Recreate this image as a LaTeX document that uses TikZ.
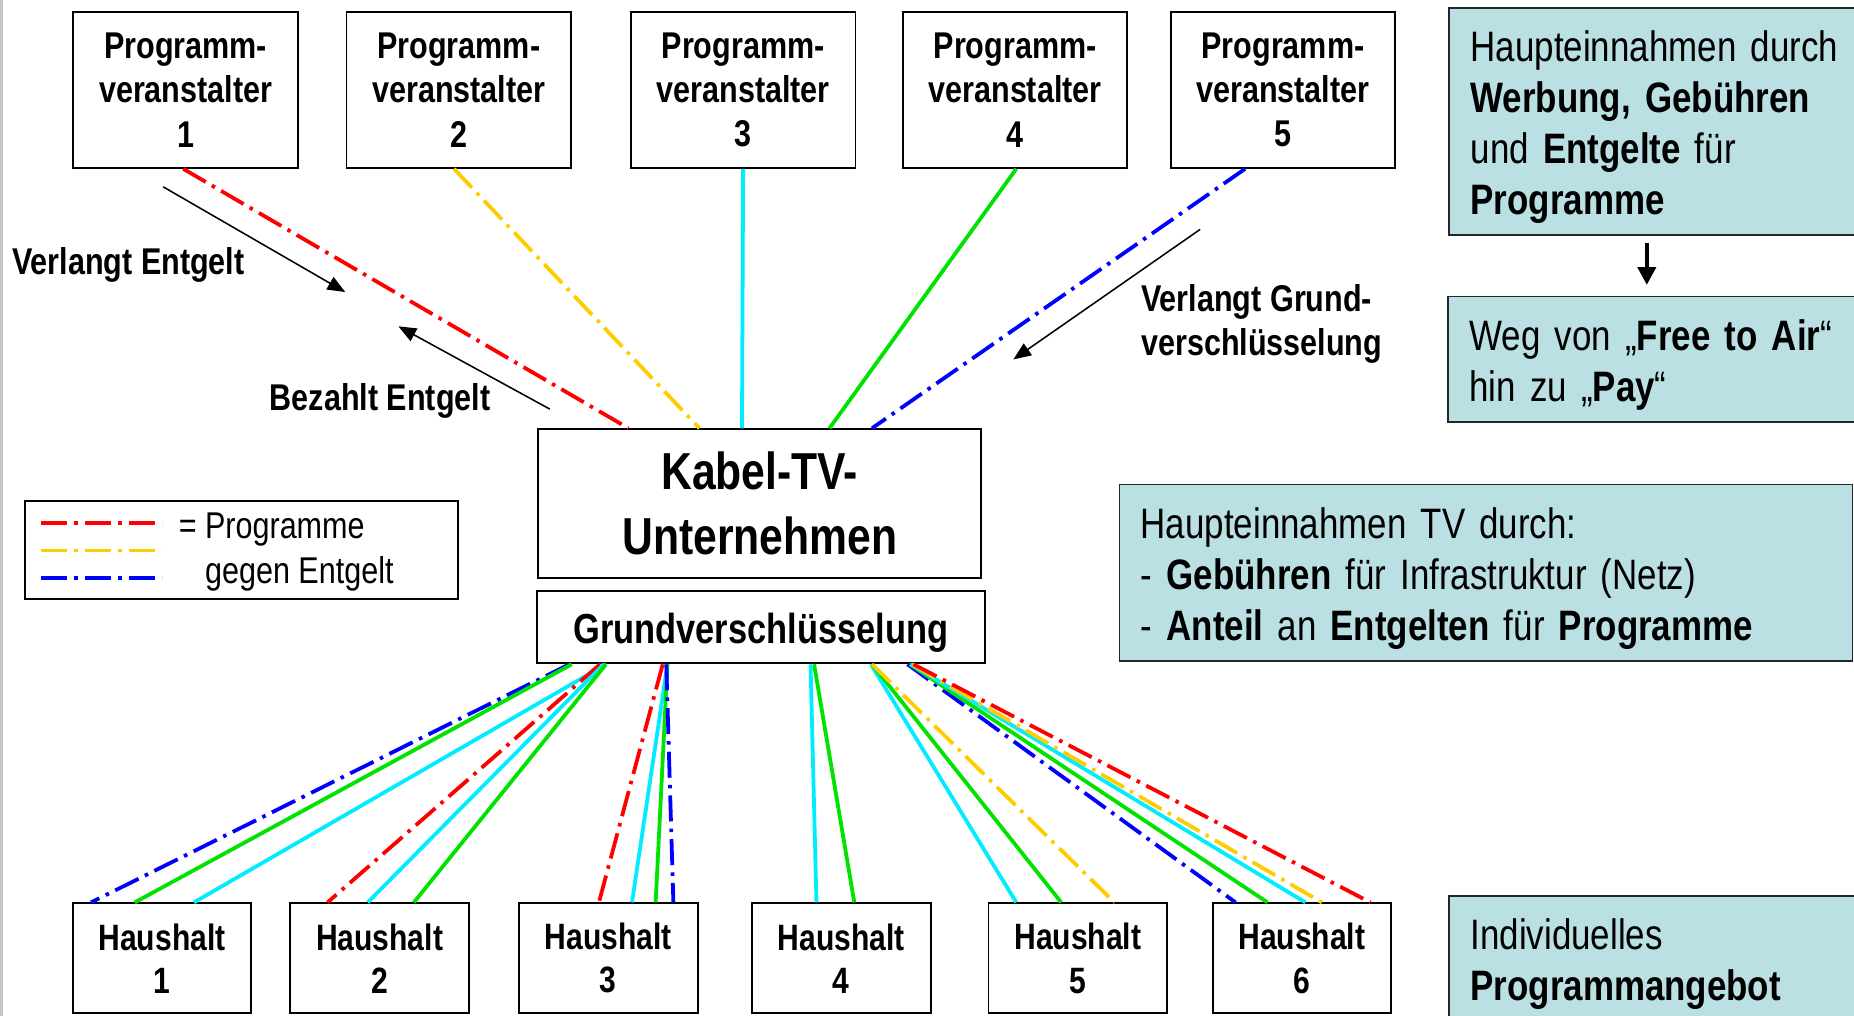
\documentclass[tikz,border=0pt]{standalone}
\usepackage{fontspec}
\setmainfont[FakeStretch=0.82]{Liberation Sans}
\usetikzlibrary{arrows.meta}

\definecolor{infofill}{RGB}{187,224,227}
\definecolor{payred}{RGB}{255,0,0}
\definecolor{payyellow}{RGB}{255,204,0}
\definecolor{payblue}{RGB}{0,0,255}
\definecolor{freecyan}{RGB}{0,236,255}
\definecolor{freegreen}{RGB}{0,226,0}

\tikzset{
  box/.style={draw, line width=1.6pt, align=center, inner sep=0pt},
  pbox/.style={box, minimum width=190pt, minimum height=132pt,
    font=\fontsize{31.5}{37.5}\selectfont\bfseries,
    execute at begin node=\rule{0pt}{0.85em}},
  hbox/.style={box, minimum width=151pt, minimum height=93pt,
    font=\fontsize{31}{36.5}\selectfont\bfseries},
  infobox/.style={draw=black!85, line width=1.5pt, fill=infofill, align=left,
    inner xsep=18pt, inner ysep=0pt, anchor=north west,
    font=\fontsize{36}{43}\selectfont,
    execute at begin node=\rule{0pt}{1em}},
  lbl/.style={font=\fontsize{31.5}{38}\selectfont\bfseries, align=left,
    anchor=west, inner sep=0pt},
  lblarrow/.style={line width=1.3pt, -{Triangle[length=15pt,width=12pt]}},
  link/.style={line width=3.2pt},
  pay/.style={link, dash pattern=on 22pt off 6pt on 3pt off 6pt},
  redpay/.style={pay, payred},
  yellowpay/.style={pay, payyellow},
  bluepay/.style={pay, payblue},
  cyanfree/.style={link, freecyan},
  greenfree/.style={link, freegreen}
}

\begin{document}
\begin{tikzpicture}[x=1pt, y=-1pt]
  \useasboundingbox (0,0) rectangle (1568,859);
  \draw[black!22, line width=2.5pt] (1.2,0) -- (1.2,859);

  % Programmveranstalter
  \foreach \x/\n in {157/1, 388/2, 628.5/3, 858.5/4, 1085/5}
    \node[pbox] (p\n) at (\x,76) {Programm-\\veranstalter\\\n};

  % Kabel-TV-Unternehmen
  \node[box, minimum width=375pt, minimum height=126pt,
    font=\fontsize{44}{55}\selectfont\bfseries] (kabel) at (642.5,426)
    {Kabel-TV-\\Unternehmen};
  \node[box, minimum width=379pt, minimum height=61pt,
    font=\fontsize{35.5}{40}\selectfont\bfseries,
    execute at begin node=\rule{0pt}{1em}] (gv) at (643.5,530.5)
    {Grundverschlüsselung};

  % Haushalte
  \foreach \x/\n in {137/1, 321/2, 514.5/3, 711.5/4, 911.5/5, 1101/6}
    \node[hbox] (h\n) at (\x,810.5) {Haushalt\\\n};

  % Programme zum Kabelnetz
  \draw[redpay] ([xshift=-2pt]p1.south) -- ([xshift=-111pt]kabel.north);
  \draw[yellowpay] ([xshift=-4pt]p2.south) -- ([xshift=-51pt]kabel.north);
  \draw[cyanfree] (p3.south) -- ([xshift=-15pt]kabel.north);
  \draw[greenfree] ([xshift=1pt]p4.south) -- ([xshift=59pt]kabel.north);
  \draw[bluepay] ([xshift=-32pt]p5.south) -- ([xshift=95pt]kabel.north);

  % Programme zu den Haushalten
  \foreach \s/\h/\e/\st in {-162/1/-60/bluepay, -160/1/-23/greenfree,
      -131/1/27/cyanfree, -136/2/-44/redpay, -133/2/-10/cyanfree,
      -131/2/29/greenfree, -83/3/-8/redpay, -79/3/20/cyanfree,
      -79/3/40/greenfree, -80/3/55/bluepay, 42/4/-21/cyanfree,
      45/4/11/greenfree, 93/5/-52/cyanfree, 94/5/-14/greenfree,
      94/5/31/yellowpay, 124/6/-56/bluepay, 126/6/-29/greenfree,
      127/6/3/cyanfree, 128/6/17/yellowpay, 129/6/58/redpay}
    \draw[\st] ([xshift=\s pt]gv.south) -- ([xshift=\e pt]h\h.north);

  % Beschriftungen
  \node[lbl] (verlangt) at (10,224) {Verlangt Entgelt};
  \node[lbl] (bezahlt) at (228,339) {Bezahlt Entgelt};
  \node[lbl] (grundlbl) at (965,274) {Verlangt Grund-\\verschlüsselung};
  \coordinate (ea) at (138,158);  \coordinate (eb) at (292,247);
  \coordinate (ba) at (465,346);  \coordinate (bb) at (337,276);
  \coordinate (ga) at (1015,194); \coordinate (gb) at (857,304);
  \draw[lblarrow] (ea) -- (eb);
  \draw[lblarrow] (ba) -- (bb);
  \draw[lblarrow] (ga) -- (gb);

  % Legende
  \draw[box] (21.5,424) rectangle (387,506.5);
  \foreach \y/\c in {442/redpay, 465.5/yellowpay, 489/bluepay}
    \draw[\c] (35,\y) -- (137,\y);
  \node[anchor=west, align=left, inner sep=0pt,
    font=\fontsize{31.5}{38}\selectfont] (legtext) at (151,467)
    {= Programme\\\phantom{= }gegen Entgelt};

  % Einnahmen
  \node[infobox, text width=324pt, minimum height=192pt] (ein) at (1225,6)
    {Haupteinnahmen durch\\\textbf{Werbung, Gebühren}\\und \textbf{Entgelte} für\\\textbf{Programme}};
  \node[infobox, text width=324pt, minimum height=106pt] (weg) at (1224,250)
    {Weg von „\textbf{Free to Air}“\\hin zu „\textbf{Pay}“};
  \draw[line width=3.6pt, -{Triangle[length=15pt,width=15pt]},
    shorten <=6pt, shorten >=9pt] ([xshift=-13pt]ein.south) -- ([xshift=-12pt]weg.north);
  \node[infobox, text width=584pt, minimum height=149pt] (tv) at (946,409)
    {Haupteinnahmen TV durch:\\- \textbf{Gebühren} für Infrastruktur (Netz)\\- \textbf{Anteil} an \textbf{Entgelten} für \textbf{Programme}};
  \node[infobox, text width=324pt, minimum height=106pt] (indiv) at (1225,757)
    {Individuelles\\\textbf{Programmangebot}};
\end{tikzpicture}
\end{document}
